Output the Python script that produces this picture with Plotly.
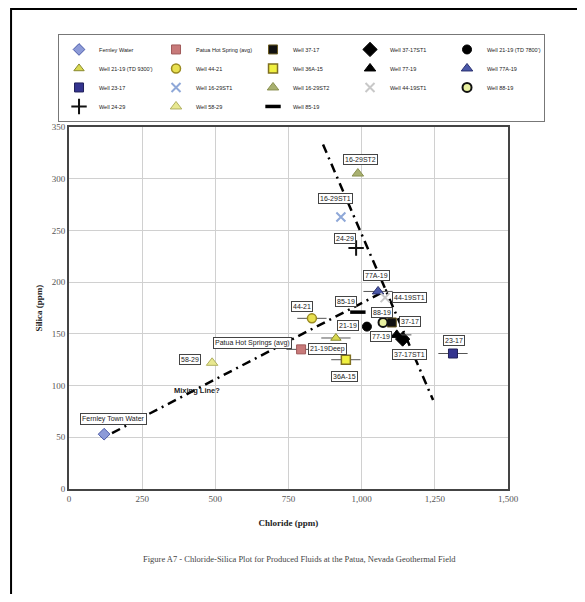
import plotly.graph_objects as go

# ---- data ----
series_names = ["Fernley Water", "Patua Hot Spring (avg)", "Well 37-17", "Well 37-17ST1",
                "Well 21-19 (TD 7800')", "Well 21-19 (TD 9300')", "Well 44-21", "Well 36A-15",
                "Well 77-19", "Well 77A-19", "Well 23-17", "Well 16-29ST1", "Well 16-29ST2",
                "Well 44-19ST1", "Well 88-19", "Well 24-29", "Well 58-29", "Well 85-19"]
chloride = [120, 793, 1103, 1140, 1018, 912, 830, 946, 1120, 1056, 1312, 929, 987, 1080, 1073, 981, 489, 987]
silica = [53, 135, 161, 145, 157, 146, 165, 125, 149, 191, 131, 263, 305, 185, 161, 233, 122, 171]
chloride_err = [0, 50, 0, 0, 0, 50, 50, 50, 50, 50, 50, 0, 0, 0, 0, 0, 0, 0]
point_labels = ["Fernley Town Water", "Patua Hot Springs (avg)", "37-17", "37-17ST1", "21-19",
                "21-19Deep", "44-21", "36A-15", "77-19", "77A-19", "23-17", "16-29ST1", "16-29ST2",
                "44-19ST1", "88-19", "24-29", "58-29", "85-19"]

mix_line_x = [147, 1090]
mix_line_y = [54, 193]
steep_line_x = [868, 1244]
steep_line_y = [333, 86]

x_ticks = [0, 250, 500, 750, 1000, 1250, 1500]
x_tick_text = ["0", "250", "500", "750", "1,000", "1,250", "1,500"]
y_ticks = [0, 50, 100, 150, 200, 250, 300, 350]

# ---- styles ----
styles = [
    dict(symbol="diamond", color="#8d9bd8", line=dict(color="#4a5aa8", width=1), size=9),
    dict(symbol="square", color="#c87a7a", line=dict(color="#a05a5a", width=1), size=9),
    dict(symbol="square", color="#111111", line=dict(color="#6a5a20", width=1), size=9),
    dict(symbol="diamond", color="#000000", line=dict(color="#000000", width=1), size=11),
    dict(symbol="circle", color="#000000", line=dict(color="#000000", width=1), size=9),
    dict(symbol="triangle-up", color="#d8d850", line=dict(color="#8a8a30", width=1), size=9),
    dict(symbol="circle", color="#e8e050", line=dict(color="#9a8a20", width=1.5), size=9),
    dict(symbol="square", color="#f0f040", line=dict(color="#807020", width=1.5), size=9),
    dict(symbol="triangle-up", color="#000000", line=dict(color="#000000", width=1), size=10),
    dict(symbol="triangle-up", color="#4a58a8", line=dict(color="#2a3070", width=1), size=10),
    dict(symbol="square", color="#34348f", line=dict(color="#20205a", width=1), size=9),
    dict(symbol="x-thin", color="#8fa8d8", line=dict(color="#8fa8d8", width=2), size=9),
    dict(symbol="triangle-up", color="#a8b070", line=dict(color="#8a9050", width=1), size=10),
    dict(symbol="x-thin", color="#c8c8c8", line=dict(color="#c8c8c8", width=2), size=9),
    dict(symbol="circle", color="#e8f0a0", line=dict(color="#111111", width=2), size=9),
    dict(symbol="cross-thin", color="#111111", line=dict(color="#111111", width=2), size=11),
    dict(symbol="triangle-up", color="#e8e890", line=dict(color="#b0b060", width=1), size=10),
    dict(symbol="line-ew", color="#000000", line=dict(color="#000000", width=3.5), size=11),
]
label_offsets = [(9, -15), (-49, -6), (18, -1), (7, 15), (-19, -1), (-8, 11), (-10, -12),
                 (-1, 17), (-16, 2), (-2, -16), (1, -13), (-5, -18), (3, -14), (24, 0),
                 (-1, -10), (-11, -10), (-22, -3), (-12, -11)]

fig = go.Figure()

line_style = dict(color="black", width=2.5, dash="9px,5px,2px,5px")
fig.add_trace(go.Scatter(x=mix_line_x, y=mix_line_y, mode="lines", line=line_style,
                         showlegend=False, hoverinfo="skip"))
fig.add_trace(go.Scatter(x=steep_line_x, y=steep_line_y, mode="lines", line=line_style,
                         showlegend=False, hoverinfo="skip"))

for i, name in enumerate(series_names):
    st = styles[i]
    err = dict(type="data", array=[chloride_err[i]], color="#555555", thickness=1, width=0,
               visible=chloride_err[i] > 0)
    fig.add_trace(go.Scatter(
        x=[chloride[i]], y=[silica[i]], mode="markers", name=name,
        marker=dict(symbol=st["symbol"], color=st["color"], size=st["size"], line=st["line"]),
        error_x=err))

label_font = dict(family="Liberation Sans Narrow, Liberation Sans, Arial", size=7, color="#222222")
annotations = []
for i, lab in enumerate(point_labels):
    ax, ay = label_offsets[i]
    annotations.append(dict(
        x=chloride[i], y=silica[i], xref="x", yref="y", text=lab, showarrow=True,
        ax=ax, ay=ay, arrowhead=0, arrowwidth=0.1, arrowcolor="rgba(0,0,0,0)",
        font=label_font, bordercolor="#444444", borderwidth=1, borderpad=1, bgcolor="white"))

annotations.append(dict(x=437, y=95, xref="x", yref="y", text="<b>Mixing Line?</b>",
                        showarrow=False,
                        font=dict(family="Liberation Sans Narrow, Liberation Sans, Arial", size=7.5,
                                  color="#222222")))
annotations.append(dict(x=0.525, y=-0.212, xref="paper", yref="paper", showarrow=False,
                        text="Figure A7 - Chloride-Silica Plot for Produced Fluids at the Patua, Nevada Geothermal Field",
                        font=dict(family="Liberation Serif, Times New Roman", size=8.5, color="#444444")))

# page frame (left and top edges of the scanned page)
shapes = [
    dict(type="line", xref="paper", yref="paper", x0=-0.132, x1=1.2, y0=1.326, y1=1.326,
         line=dict(color="black", width=2)),
    dict(type="line", xref="paper", yref="paper", x0=-0.132, x1=-0.132, y0=1.33, y1=-0.3,
         line=dict(color="black", width=2)),
]

fig.update_layout(
    width=569, height=586,
    margin=dict(l=61, r=69, t=119, b=105),
    paper_bgcolor="white", plot_bgcolor="white",
    showlegend=True,
    legend=dict(orientation="h", x=-0.025, y=1.257, xanchor="left", yanchor="top",
                entrywidth=52, entrywidthmode="pixels",
                font=dict(family="Liberation Sans Narrow, Liberation Sans, Arial", size=5.5, color="#222222"),
                bordercolor="#777777", borderwidth=1, bgcolor="white",
                itemsizing="trace", tracegroupgap=0),
    xaxis=dict(range=[0, 1500], tickvals=x_ticks, ticktext=x_tick_text,
               showgrid=True, gridcolor="#d0d0d0", gridwidth=1, zeroline=False,
               showline=True, linecolor="#444444", linewidth=2, mirror=True,
               ticks="", tickfont=dict(family="Liberation Serif, Times New Roman", size=9, color="#555555"),
               title=dict(text="<b>Chloride (ppm)</b>", standoff=17,
                          font=dict(family="Liberation Serif, Times New Roman", size=9, color="#222222"))),
    yaxis=dict(range=[0, 350], tickvals=y_ticks,
               showgrid=True, gridcolor="#d0d0d0", gridwidth=1, zeroline=False,
               showline=True, linecolor="#444444", linewidth=2, mirror=True,
               ticks="", tickfont=dict(family="Liberation Serif, Times New Roman", size=9, color="#555555"),
               title=dict(text="<b>Silica (ppm)</b>", standoff=8,
                          font=dict(family="Liberation Serif, Times New Roman", size=9, color="#222222"))),
    annotations=annotations,
    shapes=shapes,
)

fig.write_html("out.html")
